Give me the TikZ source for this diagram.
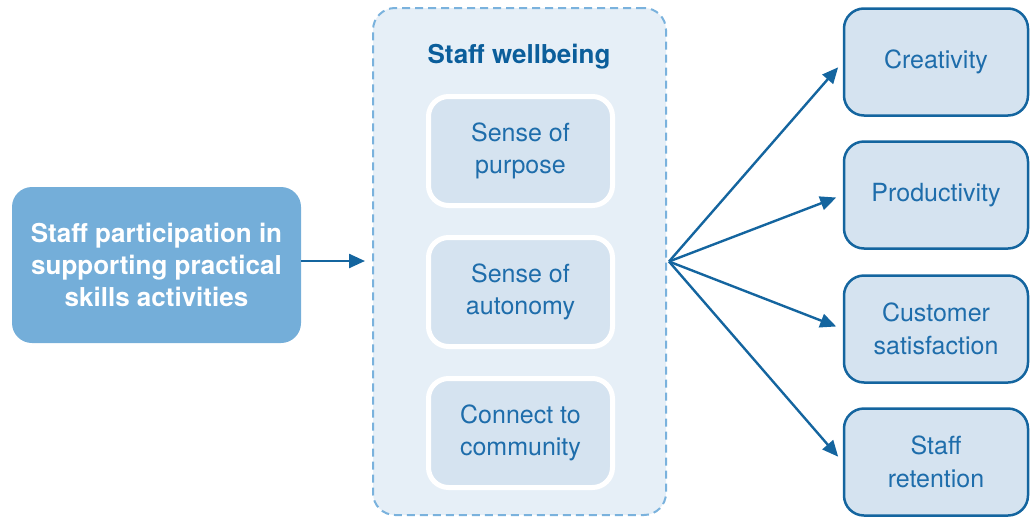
\documentclass[tikz,border=0pt]{standalone}
\usepackage{fontspec}
\setmainfont{TeX Gyre Heros}
\usetikzlibrary{arrows.meta,calc}
\definecolor{linkblue}{HTML}{14659F}
\definecolor{titleblue}{HTML}{0B5E9B}
\definecolor{textblue}{HTML}{1E6DAB}
\definecolor{midblue}{HTML}{74AED9}
\definecolor{paleblue}{HTML}{E6EFF7}
\definecolor{boxblue}{HTML}{D5E3F0}
\definecolor{dashblue}{HTML}{7AB2DD}

\begin{document}
\begin{tikzpicture}[x=1pt,y=-1pt,
  txt/.style={align=center,font=\fontsize{25}{32.5}\selectfont},
  bold/.style={align=center,font=\fontsize{26}{32}\selectfont\bfseries},
  inbox/.style={txt,draw=white,line width=5pt,fill=boxblue,rounded corners=20pt,
    minimum width=184pt,minimum height=109pt,text=textblue},
  outbox/.style={txt,draw=linkblue,line width=2.5pt,fill=boxblue,rounded corners=20pt,
    minimum width=184pt,minimum height=107pt,text=textblue},
  link/.style={draw=linkblue,line width=2.4pt,-{Triangle[length=16pt,width=14pt]},shorten >=7pt}]
\useasboundingbox (0,0) rectangle (1033,517);
% left box
\node[bold,text=white,fill=midblue,rounded corners=20pt,
  minimum width=289pt,minimum height=156pt] (part) at (156.5,265)
  {Staff participation in\\supporting practical\\skills activities};
% wellbeing container
\node[draw=dashblue,dashed,dash pattern=on 8pt off 5pt,line width=2pt,fill=paleblue,rounded corners=22pt,
  minimum width=293pt,minimum height=507pt] (wb) at (519.5,261.5) {};
\node[bold,text=titleblue] (wbtitle) at (519,57) {Staff wellbeing};
\node[inbox] (purpose) at (520.5,151) {Sense of\\purpose};
\node[inbox] (autonomy) at (520.5,292) {Sense of\\autonomy};
\node[inbox] (community) at (520.5,433) {Connect to\\community};
% outcomes
\node[outbox] (creat) at (936,62) {Creativity};
\node[outbox] (prod) at (936,195) {Productivity};
\node[outbox] (cust) at (936,329) {Customer\\satisfaction};
\node[outbox] (reten) at (936,462) {Staff\\retention};
% arrows
\coordinate (hub) at ($(wb.east)+(2,0)$);
\draw[link] (part.east |- 0,261) -- (wb.west |- 0,261);
\foreach \t in {creat,prod,cust,reten}
  \draw[link] (hub) -- (\t.west);
\end{tikzpicture}
\end{document}
